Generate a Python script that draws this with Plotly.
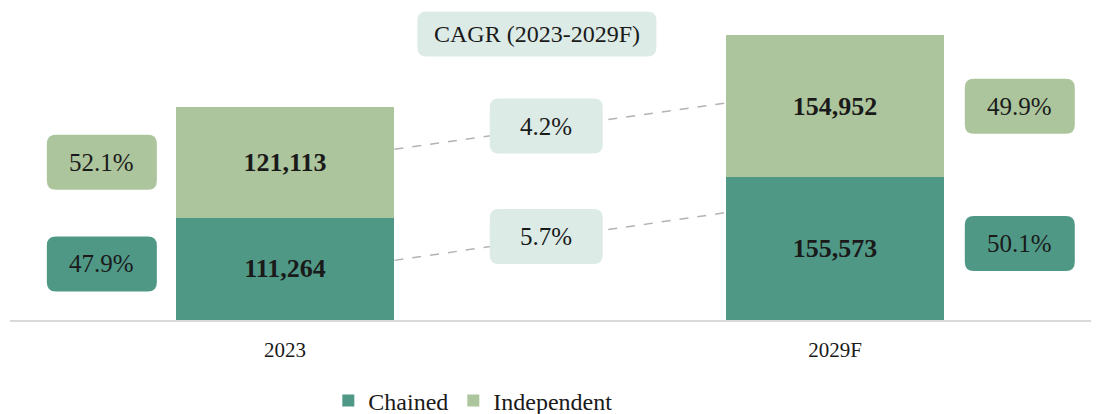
import plotly.graph_objects as go

# ---- data ----
years = ["2023", "2029F"]
chained = [111264, 155573]
independent = [121113, 154952]
chained_share = [47.9, 50.1]
independent_share = [52.1, 49.9]
cagr_independent = 4.2
cagr_chained = 5.7
cagr_title = "CAGR (2023-2029F)"

# ---- layout constants (page body adds an 8px offset) ----
OFF = 8
W, H = 1099 - OFF, 414 - OFF
ML, MR, MT, MB = 10 - OFF, 0, 0, 94
PW, PH = W - ML - MR, H - MT - MB
X_UNIT_PX = 550.0
XR = [-0.5, -0.5 + PW / X_UNIT_PX]
PX_PER_UNIT_Y = 300 / 326900.0
YMAX = PH / PX_PER_UNIT_Y
BAR_W = 0.398

C_CHAIN = "#4f9886"
C_IND = "#adc59d"
C_CAGR = "#dcebe6"
TXT = "#1a1a1a"
FONT = "Liberation Serif"

xs = list(range(len(years)))


def dx(px):
    return px * (XR[1] - XR[0]) / PW


def dy(px):
    return px * YMAX / PH


def rounded_box(cx, cy, w_px, h_px, r_px, color):
    x0, x1 = cx - dx(w_px / 2), cx + dx(w_px / 2)
    y0, y1 = cy - dy(h_px / 2), cy + dy(h_px / 2)
    rx, ry = dx(r_px), dy(r_px)
    path = (
        f"M {x0+rx},{y0} L {x1-rx},{y0} Q {x1},{y0} {x1},{y0+ry} "
        f"L {x1},{y1-ry} Q {x1},{y1} {x1-rx},{y1} L {x0+rx},{y1} "
        f"Q {x0},{y1} {x0},{y1-ry} L {x0},{y0+ry} Q {x0},{y0} {x0+rx},{y0} Z"
    )
    return dict(type="path", path=path, xref="x", yref="y",
                fillcolor=color, line=dict(width=0), layer="above")


fig = go.Figure()
fig.add_trace(go.Bar(
    x=xs, y=chained, name="Chained", marker=dict(color=C_CHAIN, line=dict(width=0)),
    width=BAR_W, text=[f"<b>{v:,}</b>" for v in chained], textposition="inside",
    insidetextanchor="middle", textangle=0,
    textfont=dict(family=FONT, size=26, color=TXT), hoverinfo="skip",
))
fig.add_trace(go.Bar(
    x=xs, y=independent, name="Independent", marker=dict(color=C_IND, line=dict(width=0)),
    width=BAR_W, text=[f"<b>{v:,}</b>" for v in independent], textposition="inside",
    insidetextanchor="middle", textangle=0,
    textfont=dict(family=FONT, size=26, color=TXT), hoverinfo="skip",
))

shapes = []
annotations = []

# share boxes beside bars
side_x = [-0.333, 1.336]
for i in xs:
    ym_c = chained[i] / 2 + dy(5)
    ym_i = chained[i] + independent[i] / 2
    for cy, val, col in ((ym_c, chained_share[i], C_CHAIN), (ym_i, independent_share[i], C_IND)):
        shapes.append(rounded_box(side_x[i], cy, 110, 55, 9, col))
        annotations.append(dict(x=side_x[i], y=cy, xref="x", yref="y", text=f"{val:.1f}%",
                                showarrow=False, font=dict(family=FONT, size=25, color=TXT)))

# connector dashed lines + CAGR boxes
conn = [
    (0.617, 0.522, cagr_independent),  # fraction of segment height at start/end
    (0.584, 0.752, cagr_chained),
]
box_x = 0.475
for k, (f0, f1, val) in enumerate(conn):
    if k == 0:
        y0 = chained[0] + independent[0] * f0
        y1 = chained[1] + independent[1] * f1
    else:
        y0 = chained[0] * f0
        y1 = chained[1] * f1
    xa, xb = xs[0] + BAR_W / 2, xs[1] - BAR_W / 2
    shapes.append(dict(type="line", x0=xa, x1=xb, y0=y0, y1=y1, xref="x", yref="y",
                       line=dict(color="#b3b3b3", width=1.5, dash="dash"), layer="below"))
    cy = y0 + (y1 - y0) * (box_x - xa) / (xb - xa) + dy(2)
    shapes.append(rounded_box(box_x, cy, 113, 55, 9, C_CAGR))
    annotations.append(dict(x=box_x, y=cy, xref="x", yref="y", text=f"{val:.1f}%",
                            showarrow=False, font=dict(family=FONT, size=25, color=TXT)))

# CAGR title box (centre at page y=34)
tx = 0.458
ty = YMAX - dy(34 - OFF - MT)
shapes.append(rounded_box(tx, ty, 239, 45, 9, C_CAGR))
annotations.append(dict(x=tx, y=ty, xref="x", yref="y", text=cagr_title, showarrow=False,
                        font=dict(family=FONT, size=24, color=TXT)))

fig.update_layout(
    width=W, height=H,
    margin=dict(l=ML, r=MR, t=MT, b=MB, autoexpand=False),
    paper_bgcolor="white", plot_bgcolor="white",
    barmode="stack",
    shapes=shapes, annotations=annotations,
    font=dict(family=FONT, color=TXT),
    showlegend=True,
    legend=dict(orientation="h", x=0.425, xanchor="center", xref="paper",
                y=1 - (401 - OFF) / H, yanchor="middle", yref="container",
                font=dict(family=FONT, size=24, color=TXT), traceorder="normal",
                itemwidth=30, bgcolor="rgba(0,0,0,0)"),
    xaxis=dict(range=XR, tickvals=xs, ticktext=years, showgrid=False, zeroline=False,
               showline=True, linecolor="#d9d9d9", linewidth=1.5, ticks="",
               tickfont=dict(family=FONT, size=21, color=TXT), ticklabelstandoff=10,
               fixedrange=True),
    yaxis=dict(range=[0, YMAX], visible=False, showgrid=False, zeroline=False, fixedrange=True),
)

fig.write_html("out.html")
